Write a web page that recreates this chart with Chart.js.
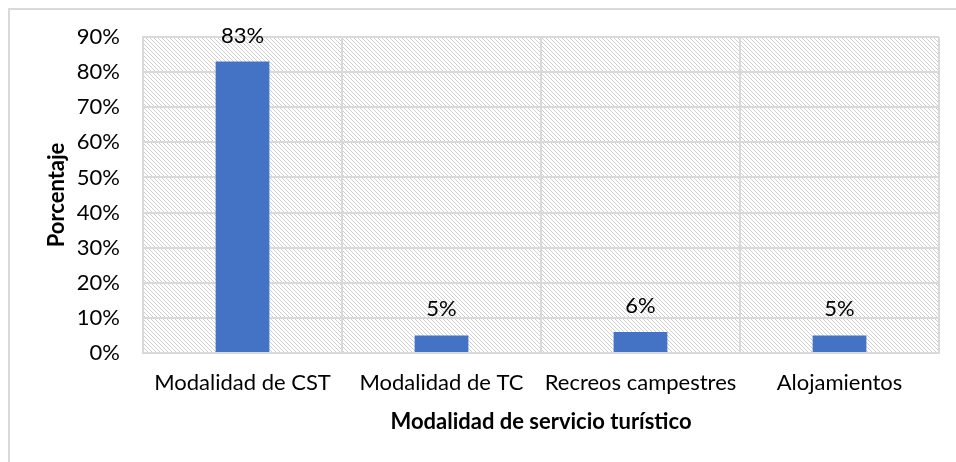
<!DOCTYPE html>
<html>
<head>
<meta charset="utf-8">
<script src="https://cdn.jsdelivr.net/npm/chart.js@4"></script>
<style>
  body { margin: 0; background: #fff; }
  #frame { position: absolute; left: 8px; top: 8px; right: 0; bottom: 0;
           border-top: 2px solid #d9d9d9; border-left: 2px solid #d9d9d9; }
  #wrap { position: absolute; left: 0; top: 0; width: 956px; height: 462px; }
</style>
</head>
<body>
<div id="frame"></div>
<div id="wrap"><canvas id="chart" width="956" height="462"></canvas></div>
<script>
const categories = ["Modalidad de CST", "Modalidad de TC", "Recreos campestres", "Alojamientos"];
const values = [83, 5, 6, 5];
const yTicks = [0, 10, 20, 30, 40, 50, 60, 70, 80, 90];

const fontFamily = "Lato, 'Open Sans', sans-serif";
const fontSize = 22;

/* light grey hatch, like the Excel plot area fill */
function makeHatch() {
    const c = document.createElement("canvas");
    c.width = 8; c.height = 8;
    const g = c.getContext("2d");
    g.fillStyle = "#fff";
    g.fillRect(0, 0, 8, 8);
    g.fillStyle = "#cfcfcf";
    for (let y = 0; y < 8; y++) {
        for (let x = 0; x < 8; x++) {
            if ((x - y + 8) % 4 === 0 && (x + y) % 2 === 0) g.fillRect(x, y, 1, 1);
        }
    }
    return g.createPattern(c, "repeat");
}

const hatchBg = {
    id: "hatchBg",
    beforeDraw(chart) {
        const { ctx, chartArea: a } = chart;
        ctx.save();
        ctx.fillStyle = makeHatch();
        ctx.fillRect(a.left, a.top, a.right - a.left, a.bottom - a.top);
        ctx.restore();
    }
};

const barLabels = {
    id: "barLabels",
    afterDatasetsDraw(chart) {
        const { ctx } = chart;
        const meta = chart.getDatasetMeta(0);
        ctx.save();
        ctx.font = fontSize + "px " + fontFamily;
        ctx.fillStyle = "#000";
        ctx.textAlign = "center";
        ctx.textBaseline = "alphabetic";
        meta.data.forEach((bar, i) => {
            ctx.fillText(values[i] + "%", bar.x, bar.y - 19);
        });
        ctx.restore();
    }
};

new Chart(document.getElementById("chart"), {
    type: "bar",
    data: {
        labels: categories,
        datasets: [{
            data: values,
            backgroundColor: "#4472c4",
            categoryPercentage: 1,
            barPercentage: 0.27
        }]
    },
    options: {
        responsive: false,
        animation: false,
        layout: { padding: { left: 0, top: 37, right: 17, bottom: 0 } },
        plugins: {
            legend: { display: false },
            tooltip: { enabled: false }
        },
        scales: {
            x: {
                grid: { color: "#d9d9d9", lineWidth: 2, drawTicks: false },
                border: { color: "#d9d9d9", width: 2 },
                ticks: {
                    color: "#000",
                    padding: 17,
                    maxRotation: 0,
                    font: { family: fontFamily, size: fontSize }
                },
                title: {
                    display: true,
                    text: "Modalidad de servicio turístico",
                    color: "#000",
                    padding: { top: 0, bottom: 27 },
                    font: { family: fontFamily, size: fontSize, weight: "bold" }
                },
                afterFit(scale) { scale.height = 109; }
            },
            y: {
                min: 0,
                max: 90,
                afterBuildTicks(scale) { scale.ticks = yTicks.map(v => ({ value: v })); },
                grid: { color: "#d9d9d9", lineWidth: 2, drawTicks: false },
                border: { color: "#d9d9d9", width: 2 },
                ticks: {
                    color: "#000",
                    padding: 23,
                    callback: v => v + "%",
                    font: { family: fontFamily, size: fontSize }
                },
                title: {
                    display: true,
                    text: "Porcentaje",
                    color: "#000",
                    padding: { top: 44, bottom: 0 },
                    font: { family: fontFamily, size: fontSize, weight: "bold" }
                },
                afterFit(scale) { scale.width = 143; }
            }
        }
    },
    plugins: [hatchBg, barLabels]
});
</script>
</body>
</html>
